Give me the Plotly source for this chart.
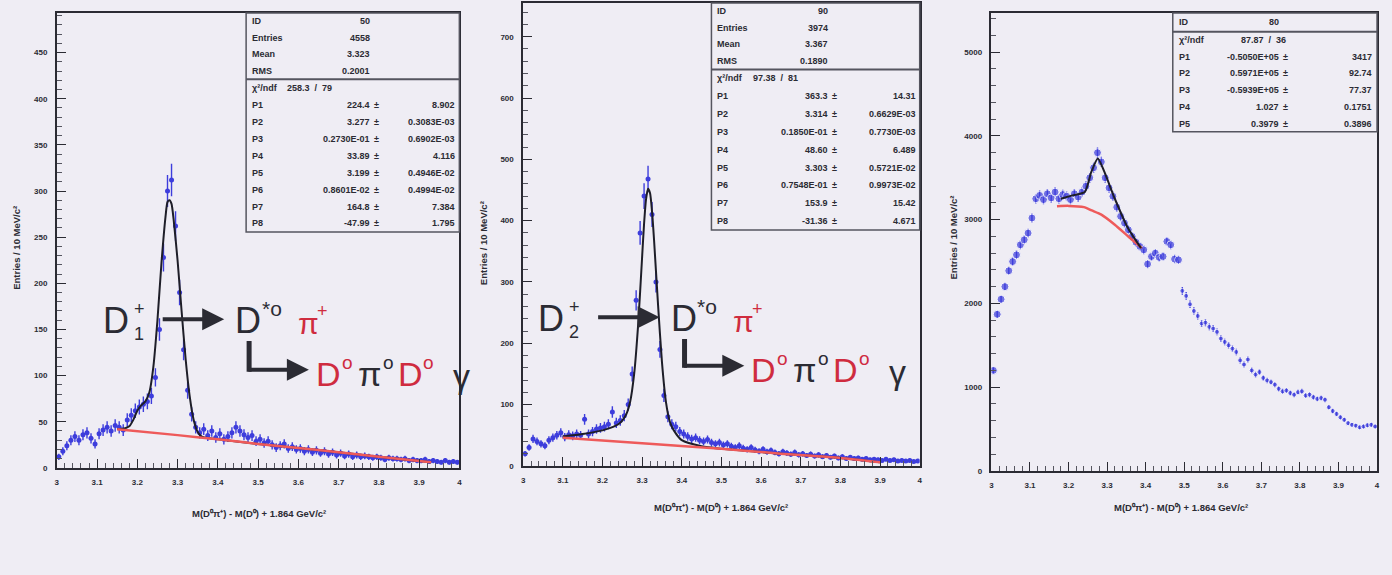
import numpy as np
import plotly.graph_objects as go

W, H = 1392, 575

# ---------------------------------------------------------------- data
# 10 MeV bins between 3.0 and 4.0 GeV
mass_bins = [round(3.005 + 0.01 * i, 3) for i in range(100)]

# D1+ -> D*0 pi+ candidates per bin
d1_counts = [
    12, 18, 24, 30, 34, 30, 36, 38, 32, 26,
    37, 41, 44, 40, 46, 44, 41, 52, 57, 62,
    66, 69, 72, 78, 98, 150, 228, 300, 312, 262,
    190, 128, 84, 58, 44, 38, 42, 35, 40, 33,
    37, 31, 34, 38, 44, 40, 36, 33, 35, 29,
    31, 27, 29, 25, 22, 24, 26, 21, 23, 20,
    21, 18, 20, 17, 19, 16, 18, 15, 17, 14,
    16, 13, 15, 12, 14, 12, 13, 12, 11, 12,
    11, 9, 11, 10, 10, 9, 10, 8, 9, 8,
    8, 9, 7, 8, 7, 6, 8, 6, 7, 6,
]
# total fit and linear background for D1+
d1_fit_x = [3.15, 3.17, 3.18, 3.19, 3.20, 3.21, 3.22, 3.23, 3.24, 3.25, 3.26, 3.27,
            3.275, 3.28, 3.285, 3.29, 3.30, 3.31, 3.32, 3.33, 3.34, 3.35, 3.36,
            3.38, 3.40, 3.50, 3.60, 3.70, 3.80, 3.93]
d1_fit_y = [42, 43, 45, 52, 62, 68, 72, 82, 110, 160, 222, 272,
            288, 290, 286, 270, 225, 170, 118, 78, 52, 39, 34,
            32, 31, 26, 21.5, 17, 12, 6]
d1_bkg_x = [3.15, 3.30, 3.40, 3.50, 3.60, 3.70, 3.80, 3.93]
d1_bkg_y = [42, 35.5, 31, 26, 21.5, 17, 12, 6]

# D2+ -> D*0 pi+ candidates per bin
d2_counts = [
    20, 30, 44, 40, 36, 33, 42, 46, 50, 54,
    47, 51, 49, 52, 50, 76, 52, 56, 60, 62,
    64, 68, 88, 70, 74, 82, 100, 150, 270, 380,
    440, 468, 410, 300, 190, 115, 80, 68, 64, 56,
    52, 48, 44, 46, 42, 40, 43, 38, 36, 38,
    34, 36, 32, 30, 33, 29, 27, 30, 26, 24,
    27, 23, 25, 22, 20, 23, 21, 19, 22, 18,
    20, 17, 19, 16, 18, 15, 17, 14, 16, 13,
    15, 12, 14, 12, 13, 11, 12, 10, 11, 10,
    9, 11, 9, 10, 8, 9, 8, 9, 7, 8,
]
d2_fit_x = [3.10, 3.15, 3.20, 3.22, 3.24, 3.25, 3.26, 3.27, 3.28, 3.29, 3.30, 3.305,
            3.31, 3.315, 3.32, 3.325, 3.33, 3.34, 3.35, 3.36, 3.37, 3.38, 3.40,
            3.45, 3.50, 3.65, 3.80, 3.90]
d2_fit_y = [48, 52, 58, 62, 68, 74, 84, 105, 150, 230, 340, 395,
            435, 452, 445, 415, 370, 265, 170, 105, 72, 58, 42,
            32, 28, 20, 13, 6]
d2_bkg_x = [3.10, 3.30, 3.50, 3.65, 3.80, 3.90]
d2_bkg_y = [46, 37, 28, 20, 13, 6]

# wide-range spectrum per bin
wide_counts = [
    1200, 1870, 2050, 2200, 2390, 2500, 2580, 2700, 2760, 2840,
    3020, 3250, 3290, 3240, 3310, 3260, 3330, 3250, 3300, 3280,
    3240, 3310, 3270, 3330, 3400, 3500, 3620, 3800, 3690, 3500,
    3380, 3280, 3150, 3040, 2960, 2880, 2800, 2730, 2680, 2640,
    2470, 2560, 2600, 2550, 2560, 2740, 2700, 2530, 2520, 2150,
    2090, 1990, 1910, 1850, 1760, 1770, 1720, 1700, 1660, 1580,
    1540, 1500, 1460, 1420, 1320, 1270, 1330, 1200, 1150, 1180,
    1110, 1080, 1060, 1030, 980, 950, 960, 930, 910, 940,
    950, 900, 910, 880, 860, 870, 850, 760, 715, 680,
    640, 610, 570, 550, 540, 520, 530, 545, 550, 530,
]
wide_fit_x = [3.18, 3.21, 3.242, 3.259, 3.276, 3.293, 3.32, 3.354, 3.388]
wide_fit_y = [3250, 3290, 3330, 3570, 3730, 3570, 3250, 2900, 2660]
wide_bkg_x = [3.17, 3.20, 3.24, 3.26, 3.285, 3.32, 3.355, 3.39]
wide_bkg_y = [3160, 3165, 3150, 3110, 3060, 2940, 2800, 2660]

# axis ticks
x_tick_vals = [3.0, 3.1, 3.2, 3.3, 3.4, 3.5, 3.6, 3.7, 3.8, 3.9, 4.0]
x_tick_text = ["3", "3.1", "3.2", "3.3", "3.4", "3.5", "3.6", "3.7", "3.8", "3.9", "4"]
y1_tick_vals = [0, 50, 100, 150, 200, 250, 300, 350, 400, 450]
y2_tick_vals = [0, 100, 200, 300, 400, 500, 600, 700]
y3_tick_vals = [0, 1000, 2000, 3000, 4000, 5000]

x_title = "M(D⁰π⁺) - M(D⁰) + 1.864 GeV/c²"
y_title = "Entries / 10 MeV/c²"

# fit statistics boxes
d1_stats_top = [("ID", "50"), ("Entries", "4558"), ("Mean", "3.323"), ("RMS", "0.2001")]
d1_stats_chi = "258.3  /  79"
d1_stats_fit = [("P1", "224.4", "8.902"), ("P2", "3.277", "0.3083E-03"),
                ("P3", "0.2730E-01", "0.6902E-03"), ("P4", "33.89", "4.116"),
                ("P5", "3.199", "0.4946E-02"), ("P6", "0.8601E-02", "0.4994E-02"),
                ("P7", "164.8", "7.384"), ("P8", "-47.99", "1.795")]
d2_stats_top = [("ID", "90"), ("Entries", "3974"), ("Mean", "3.367"), ("RMS", "0.1890")]
d2_stats_chi = "97.38  /  81"
d2_stats_fit = [("P1", "363.3", "14.31"), ("P2", "3.314", "0.6629E-03"),
                ("P3", "0.1850E-01", "0.7730E-03"), ("P4", "48.60", "6.489"),
                ("P5", "3.303", "0.5721E-02"), ("P6", "0.7548E-01", "0.9973E-02"),
                ("P7", "153.9", "15.42"), ("P8", "-31.36", "4.671")]
wide_stats_top = [("ID", "80")]
wide_stats_chi = "87.87  /  36"
wide_stats_fit = [("P1", "-0.5050E+05", "3417"), ("P2", "0.5971E+05", "92.74"),
                  ("P3", "-0.5939E+05", "77.37"), ("P4", "1.027", "0.1751"),
                  ("P5", "0.3979", "0.3896")]

# ---------------------------------------------------------------- style
BG = "#efedf4"
INK = "#2b2b33"
BLUE = "#3d3ddc"
RED = "#ee5a5a"
FIT = "#1e1e28"
RED_TXT = "#cf2c3f"
FONT = "Liberation Sans"


def fx(x):
    return x / W


def fy(y):
    return 1 - y / H


fig = go.Figure()


def add_hist(xa, ya, counts, size, err_w=1.4):
    fig.add_trace(go.Scatter(
        x=mass_bins, y=counts, mode="markers", xaxis=xa, yaxis=ya,
        marker=dict(color=BLUE, size=size),
        error_y=dict(type="data", array=np.sqrt(counts), color=BLUE,
                     thickness=err_w, width=0),
        showlegend=False, hoverinfo="skip"))


def add_curve(xa, ya, xs, ys, color, width):
    fig.add_trace(go.Scatter(
        x=xs, y=ys, mode="lines", xaxis=xa, yaxis=ya,
        line=dict(color=color, width=width, shape="spline", smoothing=0.6),
        showlegend=False, hoverinfo="skip"))


add_hist("x", "y", d1_counts, 5)
add_curve("x", "y", d1_fit_x, d1_fit_y, FIT, 2)
add_curve("x", "y", d1_bkg_x, d1_bkg_y, RED, 2.5)

add_hist("x2", "y2", d2_counts, 5)
add_curve("x2", "y2", d2_fit_x, d2_fit_y, FIT, 2)
add_curve("x2", "y2", d2_bkg_x, d2_bkg_y, RED, 2.5)

wide_sizes = [8 if m < 3.49 else 5 for m in mass_bins]
fig.add_trace(go.Scatter(
    x=mass_bins, y=wide_counts, mode="markers", xaxis="x3", yaxis="y3",
    marker=dict(color=BLUE, size=wide_sizes),
    error_y=dict(type="data", array=np.sqrt(wide_counts), color=BLUE,
                 thickness=1.4, width=0),
    showlegend=False, hoverinfo="skip"))
add_curve("x3", "y3", wide_bkg_x, wide_bkg_y, RED, 2.5)
add_curve("x3", "y3", wide_fit_x, wide_fit_y, FIT, 2)

# ---------------------------------------------------------------- axes
panels = [
    # (left, right, top, bottom) in pixels, y range, y ticks, minor y step
    ((55, 459, 13, 472), 493, y1_tick_vals, 10),
    ((523, 921, 3, 470), 755, y2_tick_vals, 20),
    ((993, 1380, 13, 475), 5470, y3_tick_vals, 200),
]

tick_font = dict(family=FONT, size=8, color=INK, weight="bold")
layout_axes = {}
for i, ((l, r, t, b), ymax, yticks, ymin_step) in enumerate(panels, start=1):
    sfx = "" if i == 1 else str(i)
    layout_axes["xaxis" + sfx] = dict(
        domain=[fx(l), fx(r)], anchor="y" + sfx, range=[3.0, 4.0],
        tickmode="array", tickvals=x_tick_vals, ticktext=x_tick_text,
        ticks="inside", ticklen=9, tickwidth=1.2, tickcolor=INK,
        minor=dict(ticks="inside", ticklen=5, tickwidth=1, tickcolor="#55555f",
                   dtick=0.02, tick0=3.0),
        showline=True, linecolor=INK, linewidth=1.5, mirror=True,
        showgrid=False, zeroline=False, tickfont=tick_font, ticklabelstandoff=6)
    layout_axes["yaxis" + sfx] = dict(
        domain=[fy(b), fy(t)], anchor="x" + sfx, range=[0, ymax],
        tickmode="array", tickvals=yticks, ticktext=[str(v) for v in yticks],
        ticks="inside", ticklen=9, tickwidth=1.2, tickcolor=INK,
        minor=dict(ticks="inside", ticklen=5, tickwidth=1, tickcolor="#55555f",
                   dtick=ymin_step, tick0=0),
        showline=True, linecolor=INK, linewidth=1.5, mirror=True,
        showgrid=False, zeroline=False, tickfont=tick_font, ticklabelstandoff=6)

# ---------------------------------------------------------------- annotations
annotations = []
shapes = []


def text(x, y, s, size=8, color=INK, xanchor="left", yanchor="middle", bold=False,
         angle=0, family=FONT):
    annotations.append(dict(
        xref="paper", yref="paper", x=fx(x), y=fy(y), text=s, showarrow=False,
        font=dict(family=family, size=size, color=color,
                  weight="bold" if bold else "normal"),
        xanchor=xanchor, yanchor=yanchor, textangle=angle, borderpad=0))


def stats_box(x0, x1, y0, ydiv, y1, top_rows, chi, fit_rows, val_r, chi_r, err_r):
    shapes.append(dict(type="rect", xref="paper", yref="paper",
                       x0=fx(x0), x1=fx(x1), y0=fy(y1), y1=fy(y0),
                       line=dict(color="#55555f", width=1.5), fillcolor=BG))
    shapes.append(dict(type="line", xref="paper", yref="paper",
                       x0=fx(x0), x1=fx(x1), y0=fy(ydiv), y1=fy(ydiv),
                       line=dict(color="#55555f", width=2)))
    step = (ydiv - y0) / len(top_rows)
    for k, (lab, val) in enumerate(top_rows):
        yy = y0 + step * (k + 0.5)
        text(x0 + 5, yy, lab, size=9, bold=True)
        text(val_r, yy, val, size=9, xanchor="right", bold=True)
    step = (y1 - ydiv) / (len(fit_rows) + 1)
    yy = ydiv + step * 0.5
    text(x0 + 5, yy, "χ²/ndf", size=9, bold=True)
    text(chi_r, yy, chi, size=9, xanchor="right", bold=True)
    for k, (lab, val, err) in enumerate(fit_rows):
        yy = ydiv + step * (k + 1.5)
        text(x0 + 5, yy, lab, size=9, bold=True)
        text(val_r, yy, val, size=9, xanchor="right", bold=True)
        text(val_r + 2, yy, "±", size=9, bold=True)
        text(err_r, yy, err, size=9, xanchor="right", bold=True)


stats_box(245, 459, 13, 80, 234, d1_stats_top, d1_stats_chi, d1_stats_fit, 370, 332, 456)
stats_box(712, 921, 3, 70, 232, d2_stats_top, d2_stats_chi, d2_stats_fit, 830, 800, 918)
stats_box(1175, 1380, 13, 32, 133, wide_stats_top, wide_stats_chi, wide_stats_fit,
          1283, 1290, 1376)

# axis titles
text(258, 518, x_title, size=9.5, xanchor="center", bold=True)
text(722, 512, x_title, size=9.5, xanchor="center", bold=True)
text(1183, 512, x_title, size=9.5, xanchor="center", bold=True)
text(15, 250, y_title, size=9.5, xanchor="center", angle=-90, bold=True)
text(484, 245, y_title, size=9.5, xanchor="center", angle=-90, bold=True)
text(955, 240, y_title, size=9.5, xanchor="center", angle=-90, bold=True)


def arrow(x_head, y, length):
    annotations.append(dict(
        xref="paper", yref="paper", x=fx(x_head), y=fy(y), ax=-length, ay=0,
        text="", showarrow=True, arrowhead=2, arrowsize=1.1, arrowwidth=4,
        arrowcolor=INK))


# decay chains: D_n+ -> D*0 pi+,  D*0 -> D0 pi0 / D0 gamma
for x0, n, y1, y2 in [(100, 1, 323, 377), (537, 2, 321, 373)]:
    # first line, positions relative to the leading "D"
    text(x0, y1, "D", size=36)
    text(x0 + 31, y1 - 11, "+", size=18)
    text(x0 + 31, y1 + 14, str(n), size=18)
    arrow(x0 + 123, y1 - 1, 63)
    text(x0 + 133, y1, "D", size=36)
    text(x0 + 160, y1 - 12, "*o", size=21)
    text(x0 + 196, y1 + 3, "π", size=30, color=RED_TXT)
    text(x0 + 215, y1 - 9, "+", size=18, color=RED_TXT)
    # second line: D*0 -> D0 pi0 / D0 gamma
    lx = x0 + 148
    shapes.append(dict(type="line", xref="paper", yref="paper",
                       x0=fx(lx), x1=fx(lx), y0=fy(y1 + 21), y1=fy(y2 - 2),
                       line=dict(color=INK, width=5)))
    arrow(lx + 60, y2 - 4, 62)
    sx = x0 + 214
    text(sx, y2, "D", size=34, color=RED_TXT)
    text(sx + 26, y2 - 11, "o", size=19, color=RED_TXT)
    text(sx + 42, y2, "π", size=34)
    text(sx + 67, y2 - 11, "o", size=19)
    text(sx + 82, y2, "D", size=34, color=RED_TXT)
    text(sx + 108, y2 - 11, "o", size=19, color=RED_TXT)
    text(sx + 138, y2 + 2, "γ", size=34)

fig.update_layout(
    width=W, height=H, margin=dict(l=0, r=0, t=0, b=0),
    paper_bgcolor=BG, plot_bgcolor=BG,
    font=dict(family=FONT, color=INK),
    annotations=annotations, shapes=shapes,
    **layout_axes)

fig.write_html("out.html")
